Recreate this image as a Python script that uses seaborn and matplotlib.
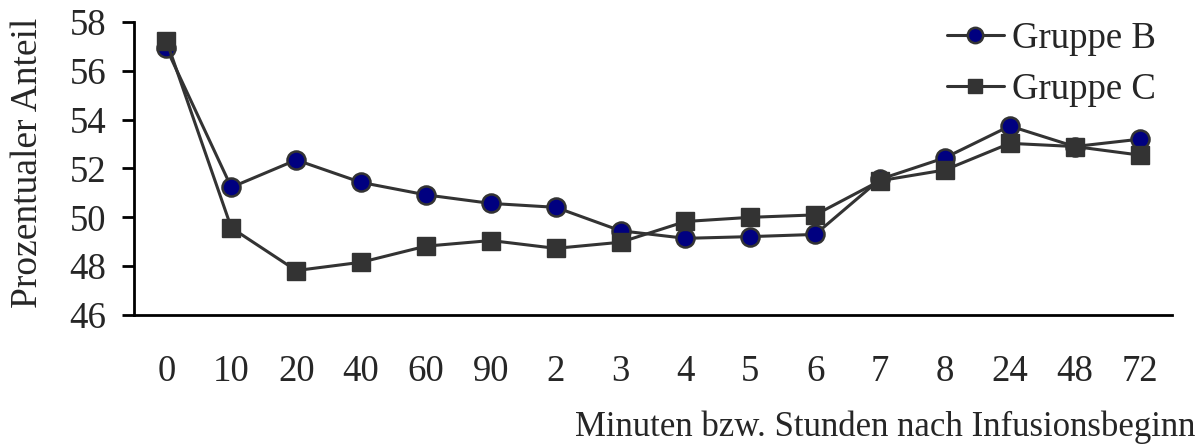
import matplotlib
matplotlib.use("Agg")
import matplotlib.pyplot as plt
import seaborn as sns
import pandas as pd
import numpy as np

zeitpunkte = ["0", "10", "20", "40", "60", "90", "2", "3", "4", "5", "6", "7", "8", "24", "48", "72"]
gruppe_b = [56.92, 51.23, 52.35, 51.43, 50.92, 50.57, 50.41, 49.45, 49.14, 49.21, 49.30, 51.56, 52.44, 53.74, 52.90, 53.20]
gruppe_c = [57.23, 49.57, 47.82, 48.16, 48.82, 49.05, 48.73, 48.98, 49.83, 50.00, 50.10, 51.50, 51.94, 53.03, 52.90, 52.55]

sns.set_theme(style="white")
plt.rcParams['font.family'] = ['Liberation Serif', 'DejaVu Serif']

pos = np.arange(len(zeitpunkte))
df = pd.DataFrame({
    "pos": np.concatenate([pos, pos]),
    "wert": gruppe_b + gruppe_c,
    "gruppe": ["Gruppe B"] * len(pos) + ["Gruppe C"] * len(pos),
})

fig = plt.figure(figsize=(12, 4.47), dpi=100)
ax = fig.add_axes([0.1117, 0.2953, 0.865, 0.6555])

sns.lineplot(data=df[df.gruppe == "Gruppe B"], x="pos", y="wert", ax=ax,
             color="#333333", lw=2.2, marker="o", markersize=13,
             markerfacecolor="#000080", markeredgecolor="#333333",
             markeredgewidth=1.8, label="Gruppe B")
sns.lineplot(data=df[df.gruppe == "Gruppe C"], x="pos", y="wert", ax=ax,
             color="#333333", lw=2.2, marker="s", markersize=12.5,
             markerfacecolor="#333333", markeredgecolor="#333333",
             markeredgewidth=1.0, label="Gruppe C")

ax.set_xlim(-0.5, len(zeitpunkte) - 0.5)
ax.set_ylim(46, 58)
ax.set_yticks(np.arange(46, 59, 2))
ax.set_xticks(pos)
ax.set_xticklabels(zeitpunkte)

for s in ["top", "right"]:
    ax.spines[s].set_visible(False)
for s in ["left", "bottom"]:
    ax.spines[s].set_color("black")
    ax.spines[s].set_linewidth(2)

ax.tick_params(axis="y", which="both", left=True, length=9, width=2,
               color="black", labelsize=26.5, pad=11, direction="out")
ax.tick_params(axis="x", which="both", bottom=False, labelsize=26.5, pad=22.5)

ax.set_ylabel("Prozentualer Anteil", fontsize=27)
ax.yaxis.set_label_coords(-0.086, 0.52)
ax.set_xlabel("")
fig.text(0.996, 0.045, "Minuten bzw. Stunden nach Infusionsbeginn",
         ha="right", va="center", fontsize=25)

leg = ax.legend(loc="upper right", bbox_to_anchor=(1.009, 1.09), frameon=False,
                fontsize=26.5, handlelength=1.55, handletextpad=0.22,
                labelspacing=0.45, borderpad=0.2, markerscale=0.85)

fig.savefig("out.png", dpi=100)
